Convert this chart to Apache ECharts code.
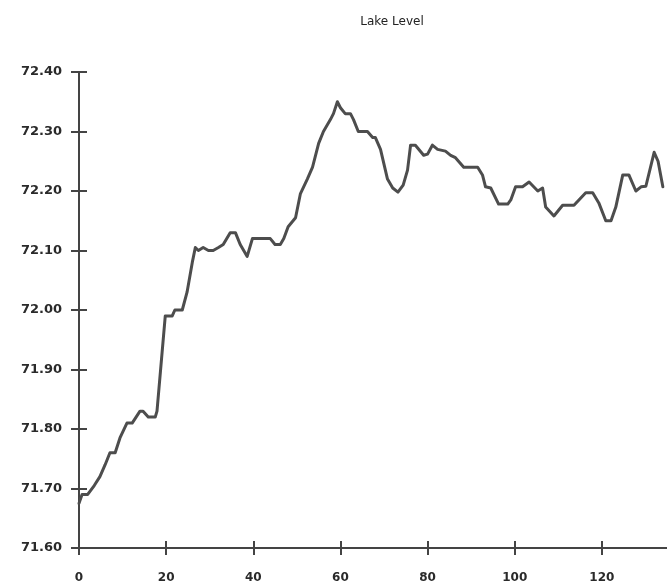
<!DOCTYPE html>
<html>
<head>
<meta charset="utf-8">
<script src="https://cdn.jsdelivr.net/npm/echarts@6/dist/echarts.min.js"></script>
<style>html,body{margin:0;padding:0;background:#fff;overflow:hidden;width:667px;height:587px;}#c{width:689px;height:587px;}</style>
</head>
<body>
<div id="c"></div>
<script>
var titleText = "Lake Level";
var xValues = [0,0.7,2,3.5,4.8,6,7.1,8.3,9.4,11,12.2,14,14.7,15.9,17.5,17.9,19.8,21.4,22,23.7,24.8,26,26.7,27.4,28.5,29.7,30.8,32,33.1,34.7,35.9,37,38.6,39.8,43.9,45,46.2,47,48,49.7,50.8,52.4,53.6,55,56.1,57.7,58.4,59.3,60,61.1,62.3,63,64.1,66.2,67.4,68,69.2,70.8,72,73.2,74.4,75.4,76.1,77.2,79.1,80,81.1,82.3,84.1,85.3,86.4,88.3,91.5,92.6,93.3,94.5,96.3,98.4,99.1,100.2,101.8,103.3,105.3,106.4,107.1,109,111,113.6,116.3,117.9,119.3,120.9,122.1,123.2,124.8,126.2,127.8,129,130.1,132,132.9,134];
var levels = [71.675,71.69,71.69,71.705,71.72,71.74,71.76,71.76,71.785,71.81,71.81,71.83,71.83,71.82,71.82,71.83,71.99,71.99,72.00,72.00,72.03,72.08,72.105,72.10,72.105,72.10,72.10,72.105,72.11,72.13,72.13,72.11,72.09,72.12,72.12,72.11,72.11,72.12,72.14,72.155,72.195,72.22,72.24,72.28,72.30,72.32,72.33,72.35,72.34,72.33,72.33,72.32,72.30,72.30,72.29,72.29,72.27,72.22,72.205,72.198,72.21,72.235,72.277,72.277,72.26,72.262,72.277,72.27,72.267,72.26,72.256,72.24,72.24,72.227,72.207,72.205,72.178,72.178,72.185,72.207,72.207,72.215,72.20,72.205,72.173,72.158,72.176,72.176,72.197,72.197,72.18,72.15,72.15,72.173,72.227,72.227,72.20,72.207,72.208,72.265,72.25,72.207];
var xMin = 0, xMax = 140, xStep = 20;
var yMin = 71.6, yMax = 72.4, yStep = 0.1;

var points = xValues.map(function(x, i){ return [x, levels[i]]; });
var axisColor = '#444';
var labelFont = 'DejaVu Sans, sans-serif';

function xAx(inside, show){
  return {type:'value', min:xMin, max:xMax, interval:xStep, position:'bottom',
    axisLine:{show:true, onZero:false, lineStyle:{color:axisColor, width:2}},
    axisTick:{show:true, inside:inside, length:7, lineStyle:{color:axisColor, width:2}},
    axisLabel:{show:show, margin:24, showMaxLabel:false, color:'#2a2a2a', fontFamily:labelFont, fontSize:12, fontWeight:'bold'},
    splitLine:{show:false}};
}
function yAx(inside, show){
  return {type:'value', min:yMin, max:yMax, interval:yStep, position:'left',
    axisLine:{show:true, onZero:false, lineStyle:{color:axisColor, width:2}},
    axisTick:{show:true, inside:inside, length:8, lineStyle:{color:axisColor, width:2}},
    axisLabel:{show:show, margin:17, color:'#2a2a2a', fontFamily:labelFont, fontSize:13, fontWeight:'bold',
      formatter:function(v){ return v.toFixed(2); }},
    splitLine:{show:false}};
}

var chart = echarts.init(document.getElementById('c'), null, {renderer:'canvas'});
chart.setOption({
  animation:false,
  backgroundColor:'#fff',
  title:{text:titleText, left:387, top:11, textAlign:'center',
    textStyle:{fontSize:12, fontWeight:'normal', color:'#222', fontFamily:labelFont}},
  grid:{left:79, right:0, top:72, bottom:39, containLabel:false},
  xAxis:[xAx(false, true), xAx(true, false)],
  yAxis:[yAx(false, true), yAx(true, false)],
  series:[{type:'line', xAxisIndex:0, yAxisIndex:0, data:points, showSymbol:false, symbol:'none',
    lineStyle:{color:'#4d4d4d', width:3, join:'round', cap:'round'}, smooth:false}]
});
</script>
</body>
</html>
